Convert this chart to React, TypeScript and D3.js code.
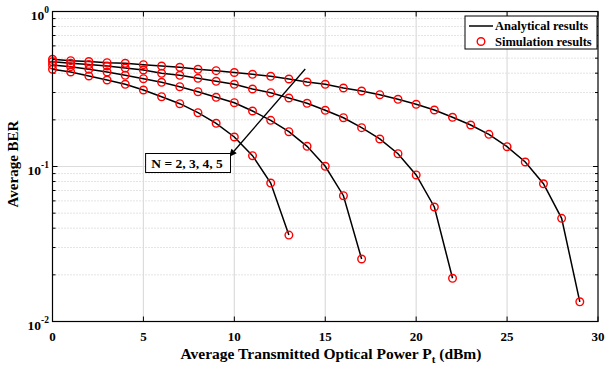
import React from "react";
import * as d3 from "d3";

const xTicks = [0, 5, 10, 15, 20, 25, 30];
const yDecades = [0.01, 0.1, 1];
const yTickExp = ["-2", "-1", "0"];

const seriesN = [2, 3, 4, 5];
const berN2 = [0.4238, 0.4072, 0.3836, 0.3614, 0.3391, 0.3115, 0.282, 0.2542, 0.2224, 0.19, 0.155, 0.1174, 0.0782, 0.0361];
const berN3 = [0.4517, 0.4405, 0.4238, 0.4072, 0.3876, 0.3685, 0.3494, 0.3272, 0.3038, 0.2796, 0.258, 0.2281, 0.1986, 0.1677, 0.135, 0.1003, 0.0648, 0.0253];
const berN4 = [0.4745, 0.4634, 0.4549, 0.445, 0.4319, 0.4195, 0.3994, 0.3876, 0.3707, 0.3546, 0.3391, 0.3162, 0.2993, 0.2766, 0.2557, 0.2305, 0.2064, 0.178, 0.1505, 0.1209, 0.0882, 0.0548, 0.019];
const berN5 = [0.4917, 0.4816, 0.4759, 0.4675, 0.4634, 0.4538, 0.445, 0.4365, 0.4238, 0.4151, 0.4041, 0.3934, 0.3819, 0.3668, 0.3509, 0.3391, 0.3209, 0.3069, 0.2905, 0.2714, 0.252, 0.2315, 0.2077, 0.1852, 0.1613, 0.1342, 0.1069, 0.0774, 0.0463, 0.0134];
const allSeries = [berN2, berN3, berN4, berN5];

const legendLabels = ["Analytical results", "Simulation results"];
const annotationText = "N = 2, 3, 4, 5";
const arrowFrom = [13.9, 0.4256];
const arrowTo = [9.7, 0.1151];
const annoBox = [5.12, 9.79];

const W = 605, H = 365;
const L = 52.5, R = 598, T = 11.5, B = 321.5;
const FONT = "'Liberation Serif', 'Times New Roman', serif";

export default function App() {
  const x = d3.scaleLinear().domain([0, 30]).range([L, R]);
  const y = d3.scaleLog().domain([0.01, 1]).range([B, T]);
  const line = d3.line<number>().x((_, i) => x(i)).y((d) => y(d));

  const minors: number[] = [];
  [0.01, 0.1].forEach((dec) => {
    for (let k = 2; k <= 9; k++) minors.push(dec * k);
  });

  const ax0 = x(arrowFrom[0]), ay0 = y(arrowFrom[1]);
  const ax1 = x(arrowTo[0]), ay1 = y(arrowTo[1]);
  const ang = Math.atan2(ay1 - ay0, ax1 - ax0);
  const hl = 8, hw = 3.5;
  const hx = ax1 - hl * Math.cos(ang), hy = ay1 - hl * Math.sin(ang);
  const head = `M${ax1},${ay1} L${hx + hw * Math.sin(ang)},${hy - hw * Math.cos(ang)} L${hx - hw * Math.sin(ang)},${hy + hw * Math.cos(ang)} Z`;

  const bx0 = x(annoBox[0]), bx1 = x(annoBox[1]);
  const by0 = 153.5, by1 = 172.5;

  const lgX0 = 465, lgX1 = 597, lgY0 = 16, lgY1 = 49;

  return (
    <svg width={W} height={H} style={{ position: "absolute", left: 0, top: 0, background: "#fff" }} fontFamily={FONT}>
      <rect x={0} y={0} width={W} height={H} fill="#fff" />
      {/* minor dotted grid */}
      {minors.map((m, i) => (
        <line key={"mg" + i} x1={L} x2={R} y1={y(m)} y2={y(m)} stroke="#c8c8c8" strokeWidth={1} strokeDasharray="1,2" />
      ))}
      {/* major grid */}
      {xTicks.slice(1, -1).map((t) => (
        <line key={"vg" + t} x1={x(t)} x2={x(t)} y1={T} y2={B} stroke="#dcdcdc" strokeWidth={1.2} />
      ))}
      <line x1={L} x2={R} y1={y(0.1)} y2={y(0.1)} stroke="#dcdcdc" strokeWidth={1.2} />

      {/* ticks */}
      {xTicks.map((t) => (
        <g key={"xt" + t}>
          <line x1={x(t)} x2={x(t)} y1={B} y2={B - 5} stroke="#000" strokeWidth={1} />
          <line x1={x(t)} x2={x(t)} y1={T} y2={T + 5} stroke="#000" strokeWidth={1} />
          <text x={x(t)} y={341} textAnchor="middle" fontSize={13} fontWeight="bold">{t}</text>
        </g>
      ))}
      {yDecades.map((d) => (
        <g key={"yt" + d}>
          <line x1={L} x2={L + 5} y1={y(d)} y2={y(d)} stroke="#000" strokeWidth={1} />
          <line x1={R} x2={R - 5} y1={y(d)} y2={y(d)} stroke="#000" strokeWidth={1} />
        </g>
      ))}
      {minors.map((m, i) => (
        <g key={"mt" + i}>
          <line x1={L} x2={L + 3} y1={y(m)} y2={y(m)} stroke="#000" strokeWidth={1} />
          <line x1={R} x2={R - 3} y1={y(m)} y2={y(m)} stroke="#000" strokeWidth={1} />
        </g>
      ))}
      {yDecades.map((d, i) => (
        <text key={"yl" + d} x={49} y={y(d) + 8} textAnchor="end" fontSize={13.5} fontWeight="bold">
          10<tspan dy={-7} fontSize={9.5}>{yTickExp[i]}</tspan>
        </text>
      ))}

      {/* series */}
      {allSeries.map((s, si) => (
        <path key={"ln" + seriesN[si]} d={line(s) || ""} fill="none" stroke="#000" strokeWidth={1.5} />
      ))}
      {allSeries.map((s, si) =>
        s.map((v, i) => (
          <circle key={"c" + si + "-" + i} cx={x(i)} cy={y(v)} r={3.8} fill="none" stroke="#ff0000" strokeWidth={1.4} />
        ))
      )}

      {/* frame */}
      <rect x={L} y={T} width={R - L} height={B - T} fill="none" stroke="#000" strokeWidth={1.2} />

      {/* annotation */}
      <line x1={ax0} y1={ay0} x2={hx} y2={hy} stroke="#000" strokeWidth={1.3} />
      <path d={head} fill="#000" />
      <rect x={bx0} y={by0} width={bx1 - bx0} height={by1 - by0} fill="#fff" stroke="#000" strokeWidth={1} />
      <text x={(bx0 + bx1) / 2 - 1} y={by1 - 4.5} textAnchor="middle" fontSize={13.5} fontWeight="bold">{annotationText}</text>

      {/* legend */}
      <rect x={lgX0} y={lgY0} width={lgX1 - lgX0} height={lgY1 - lgY0} fill="#fff" stroke="#000" strokeWidth={1} />
      <line x1={469} x2={493} y1={26} y2={26} stroke="#000" strokeWidth={1.5} />
      <text x={495} y={30} fontSize={12.5} fontWeight="bold">{legendLabels[0]}</text>
      <circle cx={481} cy={41.5} r={3.8} fill="none" stroke="#ff0000" strokeWidth={1.4} />
      <text x={495} y={45.5} fontSize={12.5} fontWeight="bold">{legendLabels[1]}</text>

      {/* axis labels */}
      <text x={331} y={359} textAnchor="middle" fontSize={15.5} fontWeight="bold">
        Average Transmitted Optical Power P<tspan dy={4} fontSize={11}>t</tspan><tspan dy={-4}> (dBm)</tspan>
      </text>
      <text transform={`translate(18,164) rotate(-90)`} textAnchor="middle" fontSize={15} fontWeight="bold">Average BER</text>
    </svg>
  );
}
